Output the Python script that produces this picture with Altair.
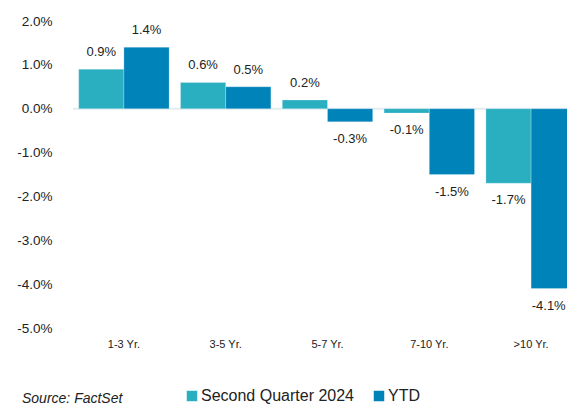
import altair as alt
import pandas as pd

categories = ["1-3 Yr.", "3-5 Yr.", "5-7 Yr.", "7-10 Yr.", ">10 Yr."]
series_names = ["Second Quarter 2024", "YTD"]
q2_values = [0.9, 0.6, 0.2, -0.1, -1.7]
ytd_values = [1.4, 0.5, -0.3, -1.5, -4.1]
y_ticks = [2, 1, 0, -1, -2, -3, -4, -5]
colors = ["#2AAFC1", "#0083B9"]

rows = []
for c, a, b in zip(categories, q2_values, ytd_values):
    rows.append({"cat": c, "series": series_names[0], "value": a})
    rows.append({"cat": c, "series": series_names[1], "value": b})
df = pd.DataFrame(rows)
df["label"] = df["value"].map(lambda v: f"{v:.1f}%")
df["edge"] = (df["cat"] == categories[-1]) & (df["series"] == series_names[-1])

FONT = "Liberation Sans"

x_scale = alt.Scale(paddingInner=0.112, paddingOuter=0.056)
x_enc = alt.X("cat:N", sort=categories, title=None, scale=x_scale,
              axis=alt.Axis(labelAngle=0, labelFontSize=11, labelColor="#222222",
                            labelFont=FONT, domain=False, ticks=False, labelPadding=10,
                            orient="bottom"))
y_scale = alt.Scale(domain=[-5, 2], nice=False, zero=False)
y_enc = alt.Y("value:Q", scale=y_scale, title=None,
              axis=alt.Axis(values=y_ticks,
                            labelExpr="replace(format(datum.value, '.1f'), '\u2212', '-') + '%'",
                            labelFontSize=13.5, labelFont=FONT, labelColor="#222222",
                            domain=False, ticks=False, grid=False, labelPadding=21))
color_enc = alt.Color("series:N", sort=series_names,
                      scale=alt.Scale(domain=series_names, range=colors),
                      legend=alt.Legend(title=None, orient="none", direction="horizontal",
                                        legendX=111, legendY=367, symbolType="square",
                                        symbolSize=110, symbolStrokeWidth=0,
                                        labelFontSize=16, labelFont=FONT, labelColor="#222222",
                                        columnPadding=17, symbolOpacity=1, labelOffset=1))

base = alt.Chart(df)

bars = base.mark_bar(stroke="white", strokeWidth=0.4, strokeOpacity=0.6).encode(
    x=x_enc,
    xOffset=alt.XOffset("series:N", sort=series_names),
    y=y_enc,
    y2=alt.datum(0),
    color=color_enc,
)

zero = alt.Chart(pd.DataFrame({"z": [0]})).mark_rule(color="#E3ECEF", strokeWidth=2).encode(
    y=alt.Y("z:Q", scale=y_scale)
)

def text_layer(filt, **kw):
    return base.transform_filter(filt).mark_text(
        fontSize=13, font=FONT, color="#222222", **kw
    ).encode(
        x=alt.X("cat:N", sort=categories),
        xOffset=alt.XOffset("series:N", sort=series_names),
        y=alt.Y("value:Q", scale=y_scale),
        text="label:N",
    )

pos_text = text_layer("datum.value >= 0", baseline="bottom", dy=-10)
neg_text = text_layer("datum.value < 0 && !datum.edge", baseline="top", dy=11)
edge_text = text_layer("datum.value < 0 && datum.edge", baseline="top", dy=11, dx=-5)

source = alt.Chart(pd.DataFrame({"t": ["Source: FactSet"]})).mark_text(
    align="left", baseline="middle", fontSize=14, font=FONT, fontStyle="italic", color="#222222"
).encode(x=alt.value(-51), y=alt.value(378), text="t:N")

chart = alt.layer(zero, bars, pos_text, neg_text, edge_text, source).properties(
    width=509, height=307,
    autosize=alt.AutoSizeParams(type="none"),
    padding={"left": 65, "top": 13, "right": -15, "bottom": 77},
).configure_view(stroke=None)

chart.save("out.html", embed_options={"renderer": "svg", "actions": False})
